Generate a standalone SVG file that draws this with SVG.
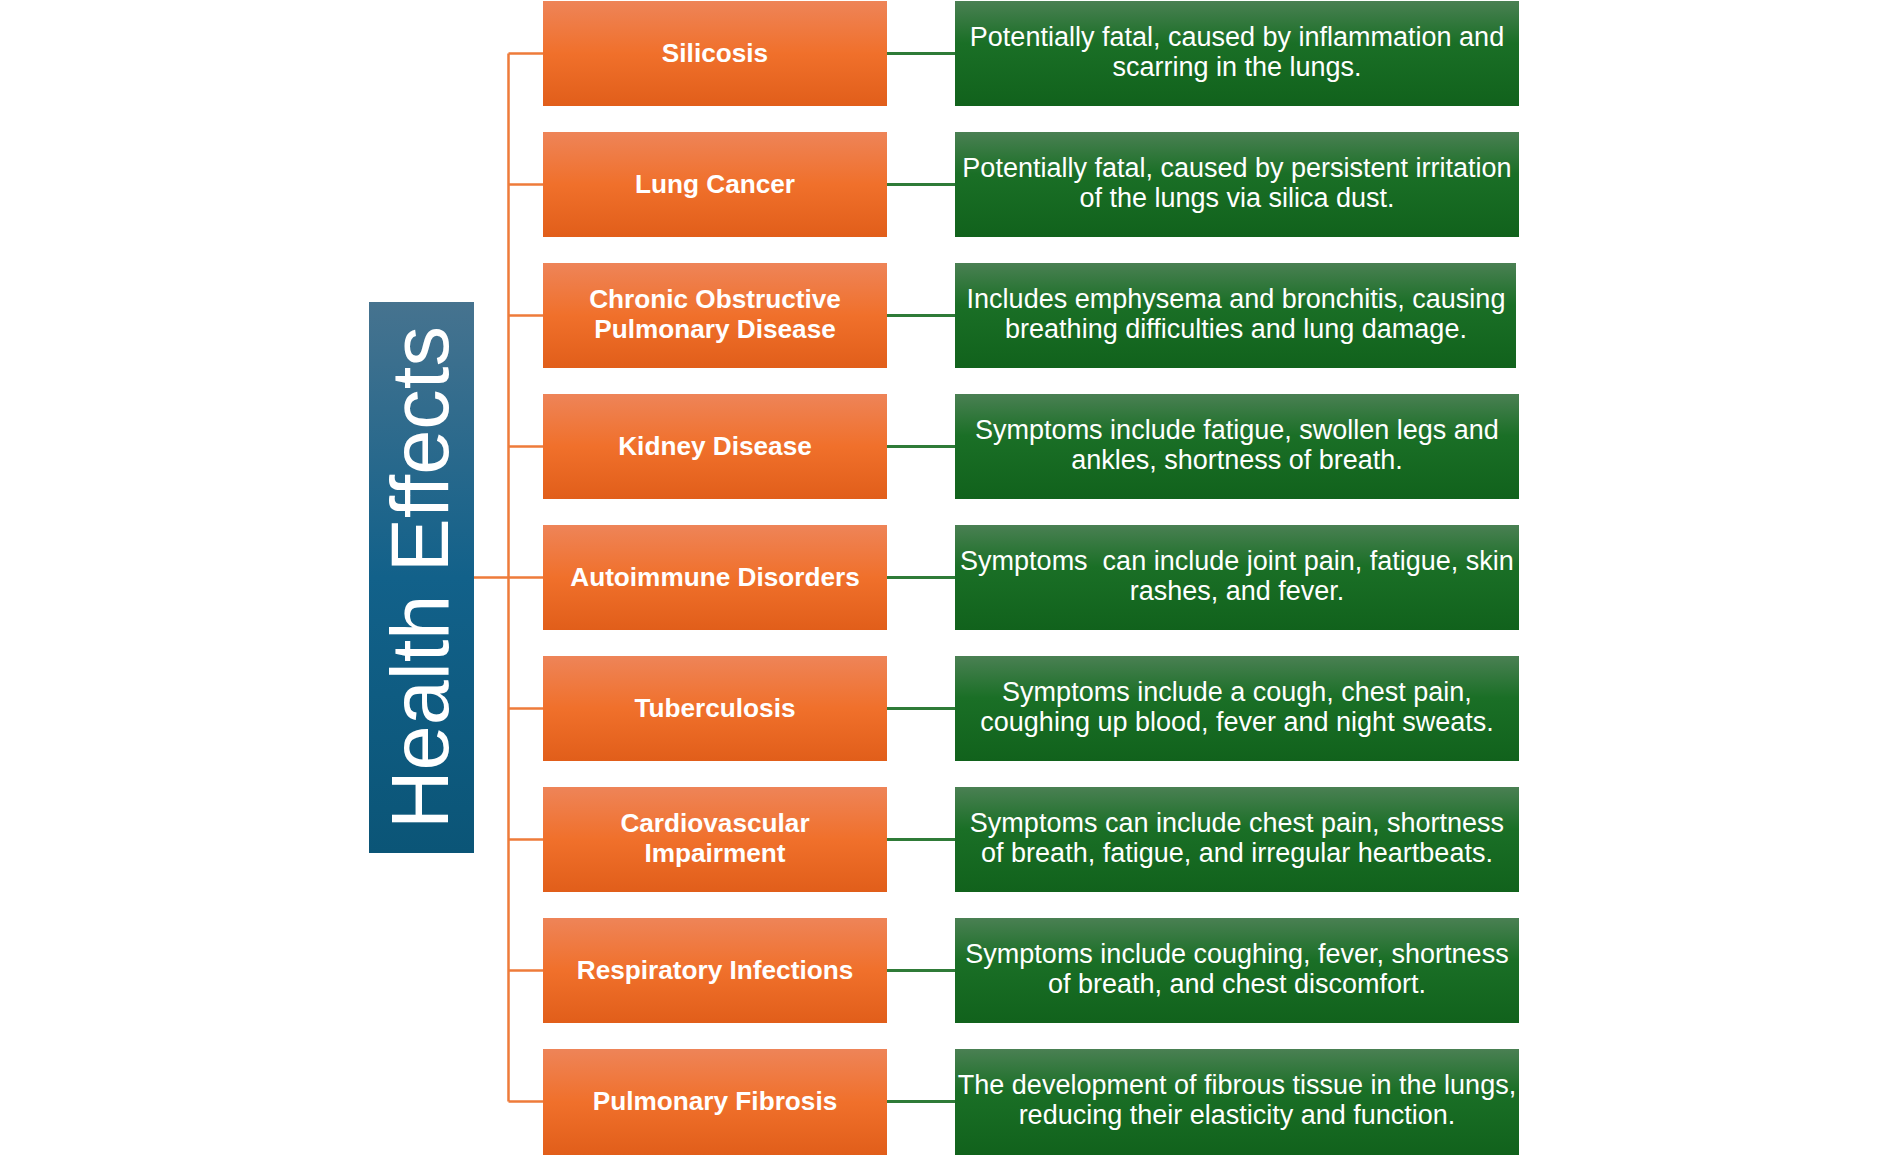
<svg xmlns="http://www.w3.org/2000/svg" width="1889" height="1155" viewBox="0 0 1889 1155">
  <defs>
    <linearGradient id="gOrange" x1="0" y1="0" x2="0" y2="1">
      <stop offset="0" stop-color="#EE8458"/>
      <stop offset="0.5" stop-color="#F0702B"/>
      <stop offset="1" stop-color="#E15E1A"/>
    </linearGradient>
    <linearGradient id="gGreen" x1="0" y1="0" x2="0" y2="1">
      <stop offset="0" stop-color="#4A8053"/>
      <stop offset="0.4" stop-color="#1A6F26"/>
      <stop offset="1" stop-color="#11621C"/>
    </linearGradient>
    <linearGradient id="gBlue" x1="0" y1="0" x2="0" y2="1">
      <stop offset="0" stop-color="#46738F"/>
      <stop offset="0.5" stop-color="#12618A"/>
      <stop offset="1" stop-color="#0B5577"/>
    </linearGradient>
  </defs>
  <style>
    .ob { fill: url(#gOrange); }
    .gb { fill: url(#gGreen); }
    .ot { font-family: "Liberation Sans", Arial, sans-serif; font-weight: bold; font-size: 26.2px; fill: #FFFFFF; text-anchor: middle; }
    .gt { font-family: "Liberation Sans", Arial, sans-serif; font-size: 27px; fill: #FFFFFF; text-anchor: middle; white-space: pre; }
    .oc { stroke: #EE7B3A; stroke-width: 2.5; fill: none; }
    .gc { stroke: #2F7B38; stroke-width: 3; fill: none; }
  </style>
  <rect width="1889" height="1155" fill="#FFFFFF"/>

  <g id="connectors">
    <path class="oc" d="M474 577.5 H508.5 M508.5 53.5 V1101.5 M508.5 53.5 H543 M508.5 184.5 H543 M508.5 315.5 H543 M508.5 446.5 H543 M508.5 577.5 H543 M508.5 708.5 H543 M508.5 839.5 H543 M508.5 970.5 H543 M508.5 1101.5 H543"/>
    <path class="gc" d="M887 53.5 H955 M887 184.5 H955 M887 315.5 H955 M887 446.5 H955 M887 577.5 H955 M887 708.5 H955 M887 839.5 H955 M887 970.5 H955 M887 1101.5 H955"/>
  </g>

  <g id="health-effects">
    <rect x="369" y="302" width="105" height="551" fill="url(#gBlue)"/>
    <text transform="translate(448 577.5) rotate(-90)" text-anchor="middle" font-family="'Liberation Sans', Arial, sans-serif" font-size="81" fill="#FFFFFF">Health Effects</text>
  </g>

  <g id="silicosis">
    <rect class="ob" x="543" y="1" width="344" height="105"/>
    <text class="ot" x="715" y="61.5">Silicosis</text>
  </g>
  <g id="silicosis-desc">
    <rect class="gb" x="955" y="1" width="564" height="105"/>
    <text class="gt" x="1237" y="45.5">Potentially fatal, caused by inflammation and</text>
    <text class="gt" x="1237" y="75.5">scarring in the lungs.</text>
  </g>

  <g id="lung-cancer">
    <rect class="ob" x="543" y="132" width="344" height="105"/>
    <text class="ot" x="715" y="192.5">Lung Cancer</text>
  </g>
  <g id="lung-cancer-desc">
    <rect class="gb" x="955" y="132" width="564" height="105"/>
    <text class="gt" x="1237" y="176.5">Potentially fatal, caused by persistent irritation</text>
    <text class="gt" x="1237" y="206.5">of the lungs via silica dust.</text>
  </g>

  <g id="copd">
    <rect class="ob" x="543" y="263" width="344" height="105"/>
    <text class="ot" x="715" y="308">Chronic Obstructive</text>
    <text class="ot" x="715" y="338">Pulmonary Disease</text>
  </g>
  <g id="copd-desc">
    <rect class="gb" x="955" y="263" width="561" height="105"/>
    <text class="gt" x="1236" y="307.5">Includes emphysema and bronchitis, causing</text>
    <text class="gt" x="1236" y="337.5">breathing difficulties and lung damage.</text>
  </g>

  <g id="kidney-disease">
    <rect class="ob" x="543" y="394" width="344" height="105"/>
    <text class="ot" x="715" y="455">Kidney Disease</text>
  </g>
  <g id="kidney-disease-desc">
    <rect class="gb" x="955" y="394" width="564" height="105"/>
    <text class="gt" x="1237" y="438.5">Symptoms include fatigue, swollen legs and</text>
    <text class="gt" x="1237" y="468.5">ankles, shortness of breath.</text>
  </g>

  <g id="autoimmune">
    <rect class="ob" x="543" y="525" width="344" height="105"/>
    <text class="ot" x="715" y="586">Autoimmune Disorders</text>
  </g>
  <g id="autoimmune-desc">
    <rect class="gb" x="955" y="525" width="564" height="105"/>
    <text class="gt" x="1237" y="569.5">Symptoms  can include joint pain, fatigue, skin</text>
    <text class="gt" x="1237" y="599.5">rashes, and fever.</text>
  </g>

  <g id="tuberculosis">
    <rect class="ob" x="543" y="656" width="344" height="105"/>
    <text class="ot" x="715" y="717">Tuberculosis</text>
  </g>
  <g id="tuberculosis-desc">
    <rect class="gb" x="955" y="656" width="564" height="105"/>
    <text class="gt" x="1237" y="700.5">Symptoms include a cough, chest pain,</text>
    <text class="gt" x="1237" y="730.5">coughing up blood, fever and night sweats.</text>
  </g>

  <g id="cardiovascular">
    <rect class="ob" x="543" y="787" width="344" height="105"/>
    <text class="ot" x="715" y="832">Cardiovascular</text>
    <text class="ot" x="715" y="862">Impairment</text>
  </g>
  <g id="cardiovascular-desc">
    <rect class="gb" x="955" y="787" width="564" height="105"/>
    <text class="gt" x="1237" y="831.5">Symptoms can include chest pain, shortness</text>
    <text class="gt" x="1237" y="861.5">of breath, fatigue, and irregular heartbeats.</text>
  </g>

  <g id="respiratory">
    <rect class="ob" x="543" y="918" width="344" height="105"/>
    <text class="ot" x="715" y="979">Respiratory Infections</text>
  </g>
  <g id="respiratory-desc">
    <rect class="gb" x="955" y="918" width="564" height="105"/>
    <text class="gt" x="1237" y="962.5">Symptoms include coughing, fever, shortness</text>
    <text class="gt" x="1237" y="992.5">of breath, and chest discomfort.</text>
  </g>

  <g id="pulmonary-fibrosis">
    <rect class="ob" x="543" y="1049" width="344" height="106"/>
    <text class="ot" x="715" y="1110">Pulmonary Fibrosis</text>
  </g>
  <g id="pulmonary-fibrosis-desc">
    <rect class="gb" x="955" y="1049" width="564" height="106"/>
    <text class="gt" x="1237" y="1093.5">The development of fibrous tissue in the lungs,</text>
    <text class="gt" x="1237" y="1123.5">reducing their elasticity and function.</text>
  </g>
</svg>
